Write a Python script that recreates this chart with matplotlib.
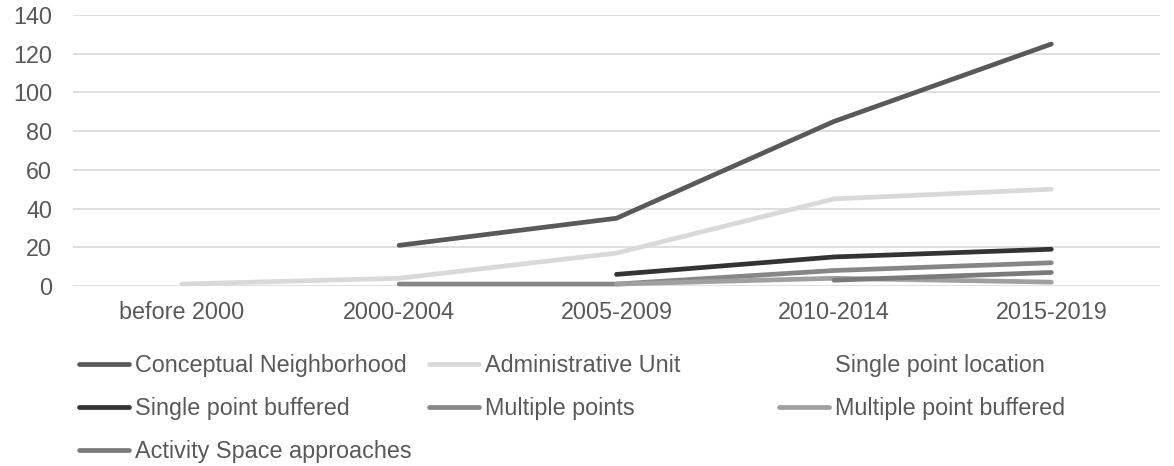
import numpy as np
import matplotlib
matplotlib.use("Agg")
import matplotlib.pyplot as plt

plt.rcParams['font.family'] = ['Liberation Sans', 'DejaVu Sans']

periods = ['before 2000', '2000-2004', '2005-2009', '2010-2014', '2015-2019']
nan = np.nan

conceptual = [nan, 21, 35, 85, 125]
administrative = [1, 4, 17, 45, 50]
single_point = [nan, nan, nan, nan, nan]
single_buffered = [nan, nan, 6, 15, 19]
multiple_points = [nan, 1, 1, 8, 12]
multiple_buffered = [nan, nan, 1, 4, 2]
activity_space = [nan, nan, nan, 3, 7]

series = [
    ('Conceptual Neighborhood', conceptual, '#595959'),
    ('Administrative Unit', administrative, '#d9d9d9'),
    ('Single point location', single_point, 'none'),
    ('Single point buffered', single_buffered, '#333333'),
    ('Multiple points', multiple_points, '#868686'),
    ('Multiple point buffered', multiple_buffered, '#a0a0a0'),
    ('Activity Space approaches', activity_space, '#7a7a7a'),
]

fs = 16.8
fig = plt.figure(figsize=(11.74, 4.66), dpi=100)
ax = fig.add_axes([73 / 1174, 1 - 286 / 466, (1160 - 73) / 1174, 271 / 466])

x = np.arange(len(periods))
handles = {}
for name, vals, color in series:
    line, = ax.plot(x, vals, color=color, lw=3.4, solid_capstyle='round',
                    clip_on=False, label=name, zorder=3)
    handles[name] = line

ax.set_xlim(-0.5, len(periods) - 0.5)
ax.set_ylim(0, 140)
ax.set_yticks(range(0, 141, 20))
ax.set_xticks(x)
ax.set_xticklabels(periods)
ax.grid(axis='y', color='#d9d9d9', lw=1.2)
ax.set_axisbelow(True)
for s in ax.spines.values():
    s.set_visible(False)
ax.tick_params(length=0, labelsize=fs, labelcolor='#595959')
ax.tick_params(axis='y', pad=15)
ax.tick_params(axis='x', pad=11)

# legend laid out as three fixed-width columns, like the original
cols = [
    (['Conceptual Neighborhood', 'Single point buffered', 'Activity Space approaches'], 79),
    (['Administrative Unit', 'Multiple points'], 429),
    (['Single point location', 'Multiple point buffered'], 779),
]
for names, xpx in cols:
    fig.legend([handles[n] for n in names], names, loc='upper left',
               bbox_to_anchor=(xpx / 1174, 1 - 354 / 466), frameon=False,
               fontsize=fs, labelcolor='#595959', handlelength=2.15,
               handletextpad=0.25, labelspacing=0.85, borderaxespad=0,
               borderpad=0)

fig.savefig('out.png', dpi=100)
